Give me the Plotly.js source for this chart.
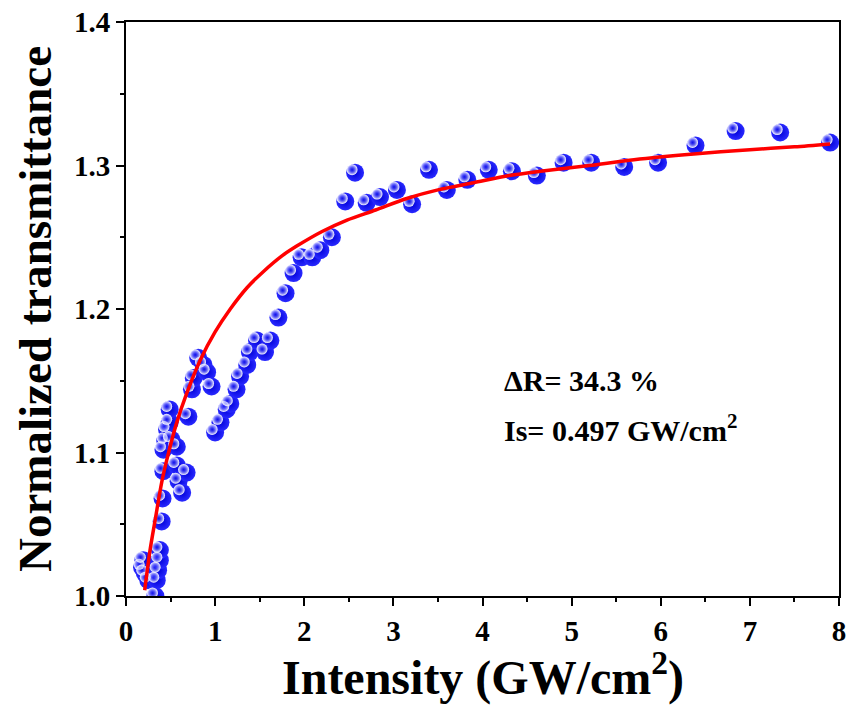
<!DOCTYPE html>
<html>
<head>
<meta charset="utf-8">
<script src="https://cdn.plot.ly/plotly-3.0.1.min.js"></script>
<style>html,body{margin:0;padding:0;background:#fff;}#chart{width:848px;height:709px;}</style>
</head>
<body>
<div id="chart"></div>
<script>
// Measured data (intensity GW/cm^2, normalized transmittance)
const intensity = [0.18,0.195,0.21,0.25,0.33,0.345,0.36,0.38,0.38,0.40,0.41,0.42,0.42,0.44,0.46,0.49,0.49,0.51,0.57,0.57,0.59,0.63,0.68,0.70,0.74,0.76,0.81,0.87,0.91,0.96,1.00,1.06,1.13,1.17,1.24,1.28,1.36,1.39,1.47,1.56,1.62,1.71,1.79,1.88,1.97,2.09,2.18,2.31,2.46,2.57,2.70,2.85,3.04,3.21,3.40,3.60,3.83,4.07,4.33,4.61,4.91,5.22,5.59,5.97,6.39,6.84,7.34,7.90];
const transmittance = [1.020,1.025,1.016,1.011,1.000,1.011,1.018,1.025,1.032,1.052,1.068,1.087,1.102,1.108,1.116,1.121,1.130,1.109,1.104,1.091,1.080,1.072,1.086,1.125,1.144,1.152,1.166,1.161,1.156,1.146,1.114,1.121,1.130,1.134,1.144,1.153,1.161,1.170,1.178,1.170,1.178,1.194,1.211,1.225,1.236,1.236,1.241,1.250,1.275,1.295,1.274,1.278,1.283,1.273,1.297,1.283,1.290,1.297,1.296,1.293,1.302,1.302,1.299,1.302,1.314,1.324,1.323,1.316];
// Fitted curve
const fitX = [0.21,0.27,0.33,0.40,0.47,0.57,0.68,0.83,1.0,1.17,1.36,1.54,1.75,1.92,2.2,2.48,2.8,3.15,3.5,3.9,4.3,4.65,5.2,5.7,6.37,7.0,7.5,7.9];
const fitY = [1.004,1.032,1.054,1.079,1.098,1.121,1.141,1.164,1.184,1.200,1.215,1.226,1.237,1.244,1.254,1.262,1.269,1.277,1.283,1.288,1.293,1.296,1.300,1.304,1.308,1.311,1.313,1.315];
const xTicks = [0,1,2,3,4,5,6,7,8];
const yTicks = [1.0,1.1,1.2,1.3,1.4];
const yTickText = ['1.0','1.1','1.2','1.3','1.4'];
const noteLines = ['ΔR= 34.3 %', 'Is= 0.497 GW/cm<sup>2</sup>'];
const xTitle = 'Intensity (GW/cm<sup>2</sup>)';
const yTitle = 'Normalized transmittance';

const font = 'Liberation Serif, Times New Roman, serif';
const xRange = [0, 8], yRange = [1.0, 1.4];
// highlight overlay axes: same scale, shifted a few pixels up-left
const pxX = (xRange[1] - xRange[0]) / 713, pxY = (yRange[1] - yRange[0]) / 574;
const hx = 3, hy = 3;

const traces = [
  {
    x: intensity, y: transmittance, type: 'scatter', mode: 'markers',
    marker: {size: 18, color: '#2a2aff', gradient: {type: 'radial', color: '#0000d8'}, line: {width: 0}},
    hoverinfo: 'skip', showlegend: false
  },
  {
    x: intensity, y: transmittance, type: 'scatter', mode: 'markers', xaxis: 'x2', yaxis: 'y2',
    marker: {size: 11, color: '#ffffff', gradient: {type: 'radial', color: 'rgba(110,110,255,0.0)'}, line: {width: 0}},
    hoverinfo: 'skip', showlegend: false
  },
  {
    x: fitX, y: fitY, type: 'scatter', mode: 'lines', xaxis: 'x3', yaxis: 'y3',
    line: {color: '#ff0000', width: 3.5, shape: 'spline', smoothing: 0.8},
    showlegend: false
  }
];

const axisCommon = {
  showgrid: false, zeroline: false, showline: true, mirror: true,
  linecolor: '#000', linewidth: 2,
  ticks: 'outside', ticklen: 8, tickwidth: 2, tickcolor: '#000',
  tickfont: {family: font, size: 29, color: '#000', weight: 'bold'},
};

const layout = {
  width: 848, height: 709,
  margin: {l: 126, r: 9, t: 22, b: 113},
  paper_bgcolor: '#fff', plot_bgcolor: '#fff',
  xaxis: Object.assign({}, axisCommon, {
    range: xRange, tickvals: xTicks, ticktext: xTicks.map(String),
    minor: {ticks: 'outside', ticklen: 4, tickwidth: 2, tickcolor: '#000', dtick: 0.5}
  }),
  yaxis: Object.assign({}, axisCommon, {
    range: yRange, tickvals: yTicks, ticktext: yTickText,
    minor: {ticks: 'outside', ticklen: 4, tickwidth: 2, tickcolor: '#000', dtick: 0.05},
    title: {text: yTitle, font: {family: font, size: 47, color: '#000', weight: 'bold'}, standoff: 8}
  }),
  xaxis2: {overlaying: 'x', range: [xRange[0] + hx * pxX, xRange[1] + hx * pxX], visible: false},
  yaxis2: {overlaying: 'y', range: [yRange[0] - hy * pxY, yRange[1] - hy * pxY], visible: false},
  xaxis3: {overlaying: 'x', range: xRange, visible: false},
  yaxis3: {overlaying: 'y', range: yRange, visible: false},
  annotations: [
    {x: 4.22, y: 1.1505, xref: 'x', yref: 'y', xanchor: 'left', yanchor: 'middle', showarrow: false,
     text: noteLines[0], font: {family: font, size: 30, color: '#000', weight: 'bold'}},
    {x: 4.22, y: 1.117, xref: 'x', yref: 'y', xanchor: 'left', yanchor: 'middle', showarrow: false,
     text: noteLines[1], font: {family: font, size: 30, color: '#000', weight: 'bold'}},
    {x: 0.5, y: -0.136, xref: 'paper', yref: 'paper', xanchor: 'center', yanchor: 'middle', showarrow: false,
     text: xTitle, font: {family: font, size: 48, color: '#000', weight: 'bold'}}
  ]
};

Plotly.newPlot('chart', traces, layout, {displayModeBar: false, staticPlot: true});
</script>
</body>
</html>
